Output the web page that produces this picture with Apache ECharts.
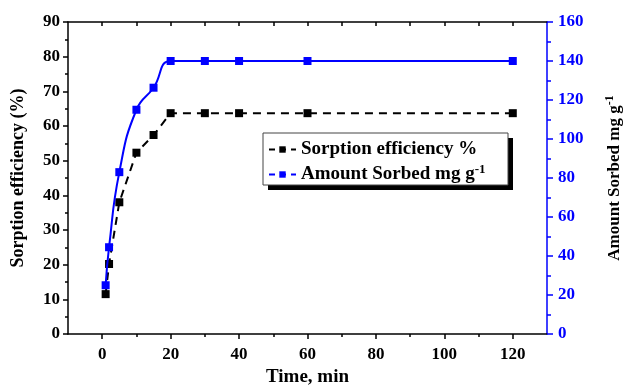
<!DOCTYPE html>
<html>
<head>
<meta charset="utf-8">
<script src="https://cdn.jsdelivr.net/npm/echarts@6/dist/echarts.min.js"></script>
<style>html,body{margin:0;padding:0;background:#fff}#c{width:625px;height:385px}</style>
</head>
<body>
<div id="c"></div>
<script>
const time = [1, 2, 5, 10, 15, 20, 30, 40, 60, 120];
const efficiency = [11.5, 20.2, 38, 52.3, 57.4, 63.7, 63.7, 63.7, 63.7, 63.7];
const sorbed = [25, 44.5, 83, 115, 126.3, 140, 140, 140, 140, 140];
const xMajor = [0, 20, 40, 60, 80, 100, 120];
const xMinor = [10, 30, 50, 70, 90, 110];
const xTop = [0, 10, 20, 30, 40, 50, 60, 70, 80, 90, 100, 110, 120];
const seriesNames = ['Sorption efficiency %', 'Amount Sorbed mg g-1'];

const FONT = '"Liberation Serif", "Times New Roman", serif';
const chart = echarts.init(document.getElementById('c'), null, {renderer: 'canvas'});

const zip = (xs, ys) => xs.map((x, i) => [x, ys[i]]);

chart.setOption({
  animation: false,
  backgroundColor: '#fff',
  grid: {left: 68, right: 78, top: 22, bottom: 51, containLabel: false, outerBoundsMode: 'none'},
  graphic: [
    {type: 'rect', z: 1, shape: {x: 268, y: 138, width: 245, height: 52}, style: {fill: '#000'}},
    {type: 'rect', z: 2, shape: {x: 263, y: 133, width: 245, height: 52}, style: {fill: '#fff', stroke: '#444', lineWidth: 1}}
  ],
  legend: {
    z: 10,
    left: 263, top: 135,
    orient: 'vertical',
    itemGap: 4,
    itemWidth: 27, itemHeight: 8,
    data: [
      {name: seriesNames[0], lineStyle: {type: [6, 5], width: 2}},
      {name: seriesNames[1], lineStyle: {type: [6, 5], width: 2}}
    ],
    textStyle: {fontFamily: FONT, fontWeight: 'bold', fontSize: 19, color: '#000',
      rich: {
        b: {fontFamily: FONT, fontWeight: 'bold', fontSize: 19, color: '#000'},
        s: {fontFamily: FONT, fontWeight: 'bold', fontSize: 13, color: '#000', padding: [0, 0, 10, 0]}
      }},
    formatter: function (n) {
      if (n.endsWith('-1')) return '{b|' + n.slice(0, -2) + '}{s|-1}';
      return '{b|' + n + '}';
    }
  },
  xAxis: [
    {
      type: 'value', min: -10, max: 130, position: 'bottom',
      name: 'Time, min', nameLocation: 'middle', nameGap: 33,
      nameTextStyle: {fontFamily: FONT, fontWeight: 'bold', fontSize: 19, color: '#000'},
      axisLine: {show: true, onZero: false, lineStyle: {color: '#000', width: 1.5}},
      axisTick: {show: true, inside: false, length: 5, customValues: xMajor, lineStyle: {color: '#000', width: 1.5}},
      axisLabel: {customValues: xMajor, margin: 12, fontFamily: FONT, fontWeight: 'bold', fontSize: 17, color: '#000'},
      splitLine: {show: false}
    },
    {
      type: 'value', min: -10, max: 130, position: 'bottom',
      axisLine: {show: false, onZero: false},
      axisTick: {show: true, inside: false, length: 3, customValues: xMinor, lineStyle: {color: '#000', width: 1.5}},
      axisLabel: {show: false},
      splitLine: {show: false}
    },
    {
      type: 'value', min: -10, max: 130, position: 'top',
      axisLine: {show: true, onZero: false, lineStyle: {color: '#000', width: 1.5}},
      axisTick: {show: true, inside: true, length: 4, customValues: xTop, lineStyle: {color: '#000', width: 1.5}},
      axisLabel: {show: false},
      splitLine: {show: false}
    }
  ],
  yAxis: [
    {
      type: 'value', min: 0, max: 90, interval: 10, position: 'left',
      name: 'Sorption efficiency (%)', nameLocation: 'middle', nameGap: 41,
      nameTextStyle: {fontFamily: FONT, fontWeight: 'bold', fontSize: 18, color: '#000'},
      axisLine: {show: true, onZero: false, lineStyle: {color: '#000', width: 1.5}},
      axisTick: {show: true, inside: false, length: 5, lineStyle: {color: '#000', width: 1.5}},
      minorTick: {show: true, splitNumber: 2, length: 3, lineStyle: {color: '#000', width: 1.5}},
      axisLabel: {margin: 8, fontFamily: FONT, fontWeight: 'bold', fontSize: 17, color: '#000'},
      splitLine: {show: false}, minorSplitLine: {show: false}
    },
    {
      type: 'value', min: 0, max: 160, interval: 20, position: 'right', alignTicks: false,
      name: '{b|Amount Sorbed mg g}{s|-1}', nameLocation: 'middle', nameGap: 57, nameRotate: 90,
      nameTextStyle: {fontFamily: FONT, fontWeight: 'bold', fontSize: 17, color: '#000',
        rich: {
          b: {fontFamily: FONT, fontWeight: 'bold', fontSize: 17, color: '#000'},
          s: {fontFamily: FONT, fontWeight: 'bold', fontSize: 12, color: '#000', padding: [0, 0, 10, 0]}
        }},
      axisLine: {show: true, onZero: false, lineStyle: {color: '#0000ff', width: 1.5}},
      axisTick: {show: true, inside: false, length: 6, lineStyle: {color: '#0000ff', width: 1.5}},
      minorTick: {show: true, splitNumber: 2, length: 4, lineStyle: {color: '#0000ff', width: 1.5}},
      axisLabel: {margin: 11, fontFamily: FONT, fontWeight: 'bold', fontSize: 17, color: '#0000ff'},
      splitLine: {show: false}, minorSplitLine: {show: false}
    }
  ],
  series: [
    {
      name: seriesNames[0], type: 'line', xAxisIndex: 0, yAxisIndex: 0,
      data: zip(time, efficiency),
      symbol: 'rect', symbolSize: 8,
      itemStyle: {color: '#000'},
      lineStyle: {color: '#000', width: 2, type: [8, 6]},
      z: 3
    },
    {
      name: seriesNames[1], type: 'line', xAxisIndex: 0, yAxisIndex: 1,
      data: zip(time, sorbed),
      smooth: 0.5,
      symbol: 'rect', symbolSize: 8,
      itemStyle: {color: '#0000ff'},
      lineStyle: {color: '#0000ff', width: 2},
      z: 4
    }
  ]
});
</script>
</body>
</html>
